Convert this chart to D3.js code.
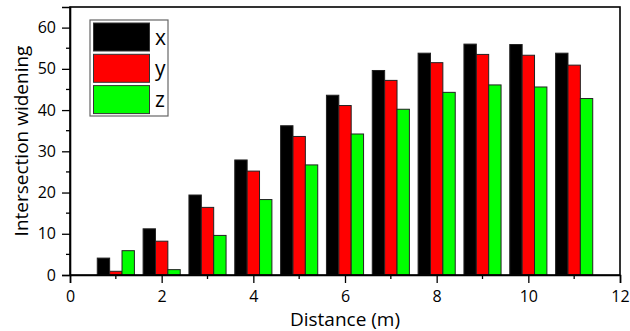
<!DOCTYPE html>
<html>
<head>
<meta charset="utf-8">
<script src="https://cdn.jsdelivr.net/npm/d3@7"></script>
<style>
  body { margin: 0; background: #fff; }
  svg text { font-family: "Open Sans", "Noto Sans", sans-serif; fill: #000; }
</style>
</head>
<body>
<svg id="chart" width="630" height="331"></svg>
<script>
// data
var distances = [1, 2, 3, 4, 5, 6, 7, 8, 9, 10, 11];
var seriesNames = ["x", "y", "z"];
var seriesColors = ["#000000", "#ff0000", "#00ff00"];
var xValues = [4.1, 11.2, 19.4, 27.9, 36.2, 43.6, 49.6, 53.8, 56.0, 55.9, 53.8];
var yValues = [0.9, 8.2, 16.4, 25.2, 33.6, 41.1, 47.2, 51.5, 53.5, 53.3, 50.9];
var zValues = [5.9, 1.3, 9.6, 18.3, 26.7, 34.2, 40.2, 44.3, 46.1, 45.6, 42.8];
var xTicks = [0, 2, 4, 6, 8, 10, 12];
var yTicks = [0, 10, 20, 30, 40, 50, 60];

var allSeries = [xValues, yValues, zValues];

var svg = d3.select("#chart");
var plotL = 70, plotR = 620, plotT = 7, plotB = 275;

var x = d3.scaleLinear().domain([0, 12]).range([plotL, plotR]);
var y = d3.scaleLinear().domain([0, 65]).range([plotB, plotT]);

var barW = 0.27;  // in data units
var offsets = [-barW, 0, barW];

// bars
allSeries.forEach(function (vals, si) {
    svg.append("g")
        .selectAll("rect")
        .data(vals)
        .enter()
        .append("rect")
        .attr("x", function (d, i) { return x(distances[i] + offsets[si] - barW / 2); })
        .attr("width", x(barW) - x(0))
        .attr("y", function (d) { return y(d); })
        .attr("height", function (d) { return y(0) - y(d); })
        .attr("fill", seriesColors[si])
        .attr("stroke", "#222")
        .attr("stroke-width", 1);
});

// frame
svg.append("rect")
    .attr("x", plotL).attr("y", plotT)
    .attr("width", plotR - plotL).attr("height", plotB - plotT)
    .attr("fill", "none")
    .attr("stroke", "#000")
    .attr("stroke-width", 1.6);

// axes
var xAxis = d3.axisBottom(x).tickValues(xTicks).tickSize(8).tickPadding(8);
var gx = svg.append("g").attr("transform", "translate(0," + plotB + ")").call(xAxis);
gx.selectAll("text").style("font-size", "16px");
gx.append("g").selectAll("line")
    .data(d3.range(1, 12, 2))
    .enter().append("line")
    .attr("x1", function (d) { return x(d); })
    .attr("x2", function (d) { return x(d); })
    .attr("y1", 0).attr("y2", 4)
    .attr("stroke", "#000")
    .attr("stroke-width", 1.3);

var yAxis = d3.axisLeft(y).tickValues(yTicks).tickSize(8).tickPadding(6);
var gy = svg.append("g").attr("transform", "translate(" + plotL + ",0)").call(yAxis);
gy.selectAll("text").style("font-size", "16px");
gy.append("g").selectAll("line")
    .data(d3.range(5, 65, 10))
    .enter().append("line")
    .attr("y1", function (d) { return y(d); })
    .attr("y2", function (d) { return y(d); })
    .attr("x1", 0).attr("x2", -4)
    .attr("stroke", "#000")
    .attr("stroke-width", 1.3);

[gx, gy].forEach(function (g) {
    g.select(".domain").attr("stroke-width", 1.6);
    g.selectAll(".tick line").attr("stroke-width", 1.3);
});

// axis titles
svg.append("text")
    .attr("x", 345)
    .attr("y", 326)
    .attr("text-anchor", "middle")
    .style("font-size", "19px")
    .text("Distance (m)");

svg.append("text")
    .attr("transform", "translate(28,141) rotate(-90)")
    .attr("text-anchor", "middle")
    .style("font-size", "19px")
    .text("Intersection widening");

// legend
var lg = svg.append("g");
lg.append("rect")
    .attr("x", 90).attr("y", 20)
    .attr("width", 78).attr("height", 96)
    .attr("fill", "#fff")
    .attr("stroke", "#666")
    .attr("stroke-width", 1.2);
seriesNames.forEach(function (name, i) {
    lg.append("rect")
        .attr("x", 93.5).attr("y", 23 + i * 31.3)
        .attr("width", 56).attr("height", 28)
        .attr("fill", seriesColors[i])
        .attr("stroke", "#333")
        .attr("stroke-width", 1);
    lg.append("text")
        .attr("x", 155).attr("y", 44.5 + i * 31.3)
        .style("font-size", "21px")
        .text(name);
});
</script>
</body>
</html>
